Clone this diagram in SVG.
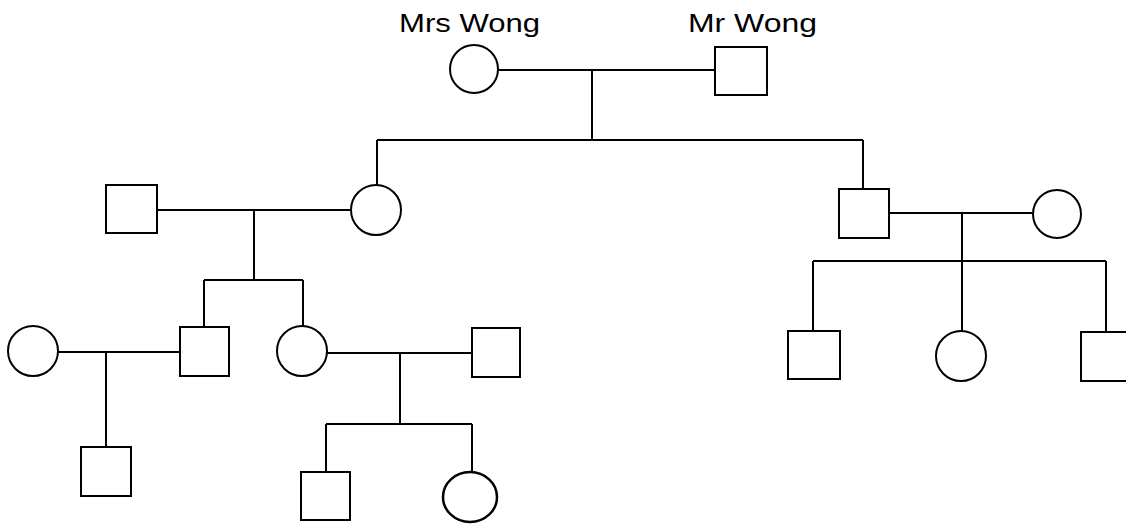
<svg xmlns="http://www.w3.org/2000/svg" width="1126" height="524" viewBox="0 0 1126 524">
<style>
.n{fill:#fff;stroke:#000;stroke-width:2}
.c{fill:none;stroke:#000;stroke-width:2}
.t{font-family:"Liberation Sans",Arial,sans-serif;font-size:26px;fill:#000}
</style>
<rect width="1126" height="524" fill="#fff"/>
<g id="connectors">
<path class="c" d="M498 70H715M592 70V140M377 140H863M377 140V186M863 140V189"/>
<path class="c" d="M157 210H351M254 210V280M204 280H303M204 280V327M303 280V327"/>
<path class="c" d="M889 213H1032M962 213V332M813 261H1106M813 261V331M1106 261V332"/>
<path class="c" d="M58 352H180M106 352V447"/>
<path class="c" d="M327 353H472M400 353V424M326 424H472M326 424V472M472 424V473"/>
</g>
<g id="mrs-wong"><circle class="n" cx="474" cy="69" r="24"/><text class="t" x="399" y="32" textLength="141" lengthAdjust="spacingAndGlyphs">Mrs Wong</text></g>
<g id="mr-wong"><rect class="n" x="715" y="47" width="52" height="48"/><text class="t" x="688" y="32" textLength="129" lengthAdjust="spacingAndGlyphs">Mr Wong</text></g>
<g id="son-in-law"><rect class="n" x="106" y="185" width="51" height="48"/></g>
<g id="daughter"><circle class="n" cx="376" cy="210" r="25"/></g>
<g id="son"><rect class="n" x="839" y="189" width="50" height="49"/></g>
<g id="daughter-in-law"><circle class="n" cx="1057" cy="214" r="24"/></g>
<g id="grandson-1-wife"><circle class="n" cx="33" cy="351" r="25"/></g>
<g id="grandson-1"><rect class="n" x="180" y="327" width="49" height="49"/></g>
<g id="granddaughter-1"><circle class="n" cx="302" cy="351" r="25"/></g>
<g id="granddaughter-1-husband"><rect class="n" x="472" y="328" width="48" height="49"/></g>
<g id="grandson-2"><rect class="n" x="788" y="331" width="52" height="48"/></g>
<g id="granddaughter-2"><circle class="n" cx="961" cy="356" r="25"/></g>
<g id="grandson-3"><rect class="n" x="1081" y="332" width="50" height="49"/></g>
<g id="great-grandson-1"><rect class="n" x="81" y="447" width="50" height="49"/></g>
<g id="great-grandson-2"><rect class="n" x="301" y="472" width="49" height="48"/></g>
<g id="great-granddaughter"><ellipse class="n" cx="470" cy="497" rx="27" ry="25" style="stroke-width:2.5"/></g>
</svg>
